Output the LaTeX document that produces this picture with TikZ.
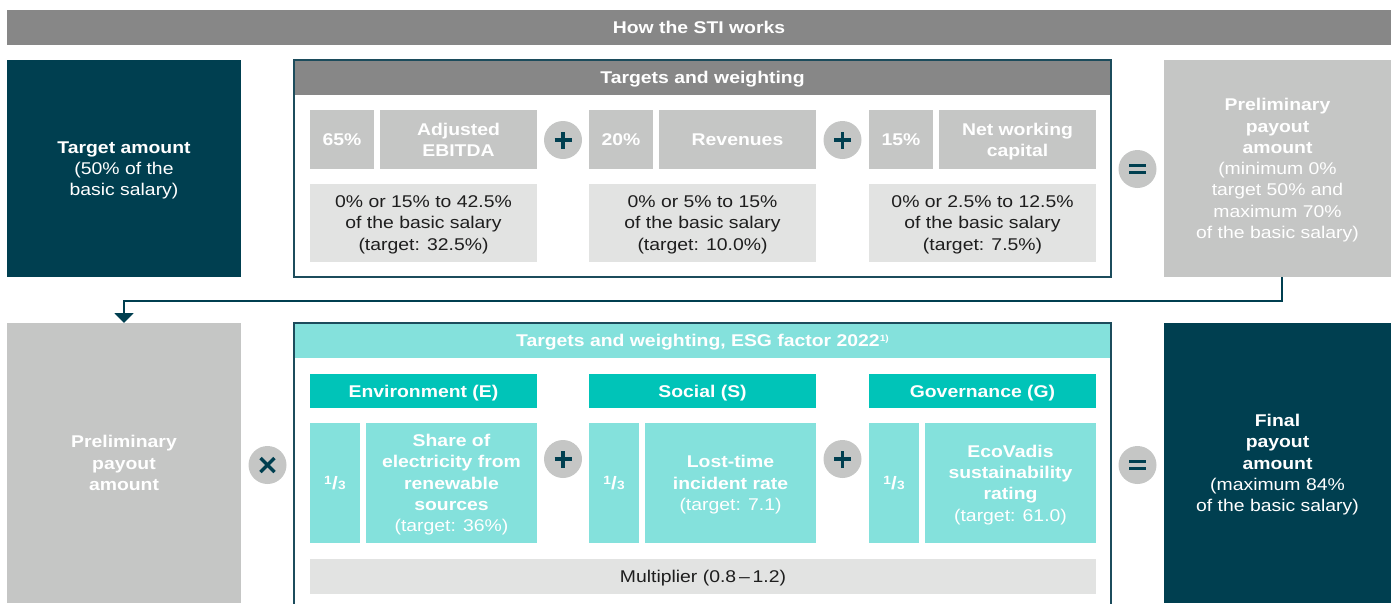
\documentclass[tikz,border=0pt]{standalone}
\usepackage{fontspec}
\setmainfont[FakeStretch=1.14]{Liberation Sans}
\usetikzlibrary{arrows.meta}

\definecolor{dteal}{HTML}{003F50}
\definecolor{framec}{HTML}{1C4C5C}
\definecolor{barg}{HTML}{878787}
\definecolor{midg}{HTML}{C5C6C5}
\definecolor{lightg}{HTML}{E2E3E2}
\definecolor{lteal}{HTML}{84E1DC}
\definecolor{mteal}{HTML}{00C4B8}
\definecolor{ink}{HTML}{1E1E1E}

\newcommand{\txt}{\fontsize{17}{21.3}\selectfont}
\newcommand{\onethird}{{\fontsize{12}{12}\selectfont\bfseries\raisebox{5pt}{1}}\kern0.3pt{\fontsize{18}{18}\selectfont\bfseries /}\kern0.3pt{\fontsize{12}{12}\selectfont\bfseries 3}}

\tikzset{
  box/.style={inner sep=0pt, outer sep=0pt, align=center, anchor=north west, font=\txt, text depth=0pt},
  multi/.style={text depth=-4pt},
  sz/.style 2 args={minimum width=#1pt, minimum height=#2pt},
  darkbox/.style={box, multi, fill=dteal, text=white},
  greybox/.style={box, multi, fill=midg, text=white},
  labelbox/.style={box, fill=midg, text=white, font=\txt\bfseries},
  palebox/.style={box, fill=lightg, text=ink},
  barbox/.style={box, fill=barg, text=white, font=\txt\bfseries},
  esghead/.style={box, fill=lteal, text=white, font=\txt\bfseries},
  catbox/.style={box, fill=mteal, text=white, font=\txt\bfseries},
  esgbox/.style={box, multi, fill=lteal, text=white},
  frameline/.style={draw=framec, line width=1.3pt},
  conn/.style={draw=dteal, line width=2pt, -{Triangle[width=19pt,length=10pt]}},
  opsym/.style={draw=dteal, line width=3.8pt, line cap=butt},
  opcirc/.style={circle, fill=midg, minimum size=38pt, inner sep=0pt, outer sep=0pt},
  plusop/.style={opcirc, path picture={
      \draw[opsym] ([xshift=-8.5pt]path picture bounding box.center) -- ([xshift=8.5pt]path picture bounding box.center);
      \draw[opsym] ([yshift=-8.5pt]path picture bounding box.center) -- ([yshift=8.5pt]path picture bounding box.center);}},
  eqop/.style={opcirc, path picture={
      \draw[opsym, line width=3.4pt] ([xshift=-8.5pt,yshift=3.6pt]path picture bounding box.center) -- ([xshift=8.5pt,yshift=3.6pt]path picture bounding box.center);
      \draw[opsym, line width=3.4pt] ([xshift=-8.5pt,yshift=-3.6pt]path picture bounding box.center) -- ([xshift=8.5pt,yshift=-3.6pt]path picture bounding box.center);}},
  timesop/.style={opcirc, path picture={
      \draw[opsym, line width=3.4pt] ([xshift=-7pt,yshift=-7pt]path picture bounding box.center) -- ([xshift=7pt,yshift=7pt]path picture bounding box.center);
      \draw[opsym, line width=3.4pt] ([xshift=-7pt,yshift=7pt]path picture bounding box.center) -- ([xshift=7pt,yshift=-7pt]path picture bounding box.center);}},
}

\begin{document}
\begin{tikzpicture}[x=1pt,y=-1pt]
\useasboundingbox (0,0) rectangle (1391,603);

% title bar
\node[barbox, sz={1384}{35}] (title) at (7,10) {How the STI works};

% ---------- first row ----------
\node[darkbox, sz={234}{217}] (tgt) at (7,60) {\textbf{Target amount}\\(50\% of the\\basic salary)};

\node[box, sz={817}{217}] (tw) at (294,60) {};
\node[barbox, sz={817}{35}, text depth=-2pt] (twh) at (294,60) {Targets and weighting};

% group 1
\node[labelbox, sz={64}{59}] (w1) at (310,110) {65\%};
\node[labelbox, multi, sz={157}{59}] (k1) at (380,110) {Adjusted\\EBITDA};
\node[palebox, multi, sz={227}{78}] (r1) at (310,184) {0\% or 15\% to 42.5\%\\of the basic salary\\(target: 32.5\%)};
% group 2
\node[labelbox, sz={64}{59}] (w2) at (589,110) {20\%};
\node[labelbox, sz={157}{59}] (k2) at (659,110) {Revenues};
\node[palebox, multi, sz={227}{78}] (r2) at (589,184) {0\% or 5\% to 15\%\\of the basic salary\\(target: 10.0\%)};
% group 3
\node[labelbox, sz={64}{59}] (w3) at (869,110) {15\%};
\node[labelbox, multi, sz={157}{59}] (k3) at (939,110) {Net working\\capital};
\node[palebox, multi, sz={227}{78}] (r3) at (869,184) {0\% or 2.5\% to 12.5\%\\of the basic salary\\(target: 7.5\%)};

\node[plusop] (pa) at (563,140) {};
\node[plusop] (pb) at (842.5,140) {};
\node[eqop] (ea) at (1137.5,169) {};

\draw[frameline] (tw.north west) rectangle (tw.south east);

\node[greybox, sz={227}{217}] (pre) at (1164,60) {\textbf{Preliminary}\\\textbf{payout}\\\textbf{amount}\\(minimum 0\%\\target 50\% and\\maximum 70\%\\of the basic salary)};

% ---------- second row ----------
\node[greybox, sz={234}{280}] (pre2) at (7,323) {\textbf{Preliminary}\\\textbf{payout}\\\textbf{amount}};

\coordinate (bend) at (124,301);
\draw[conn] ([xshift=4.5pt]pre.south) |- (bend) -- (pre2.north);

\node[timesop] (tm) at (267.5,465) {};

\node[box, sz={817}{300}] (esg) at (294,323) {};
\node[esghead, sz={817}{35}] (esgh) at (294,323) {Targets and weighting, ESG factor 2022\raisebox{5pt}{\fontsize{9}{9}\selectfont 1)}};

\node[catbox, sz={227}{34}] (ce) at (310,374) {Environment (E)};
\node[catbox, sz={227}{34}] (cs) at (589,374) {Social (S)};
\node[catbox, sz={227}{34}] (cg) at (869,374) {Governance (G)};

\node[esgbox, sz={50}{120}, text depth=0pt] (fe) at (310,423) {\onethird};
\node[esgbox, sz={171}{120}] (te) at (366,423) {\textbf{Share of}\\\textbf{electricity from}\\\textbf{renewable}\\\textbf{sources}\\(target: 36\%)};
\node[esgbox, sz={50}{120}, text depth=0pt] (fs) at (589,423) {\onethird};
\node[esgbox, sz={171}{120}] (ts) at (645,423) {\textbf{Lost-time}\\\textbf{incident rate}\\(target: 7.1)};
\node[esgbox, sz={50}{120}, text depth=0pt] (fg) at (869,423) {\onethird};
\node[esgbox, sz={171}{120}] (tg) at (925,423) {\textbf{EcoVadis}\\\textbf{sustainability}\\\textbf{rating}\\(target: 61.0)};

\node[plusop] (pc) at (563,459) {};
\node[plusop] (pd) at (842.5,459) {};

\node[palebox, sz={786}{35}] (mult) at (310,559) {Multiplier (0.8\,\textendash\,1.2)};

\draw[frameline] (esg.north west) rectangle (esg.south east);

\node[eqop] (eb) at (1137.5,465) {};

\node[darkbox, sz={227}{280}] (fin) at (1164,323) {\textbf{Final}\\\textbf{payout}\\\textbf{amount}\\(maximum 84\%\\of the basic salary)};

\end{tikzpicture}
\end{document}
